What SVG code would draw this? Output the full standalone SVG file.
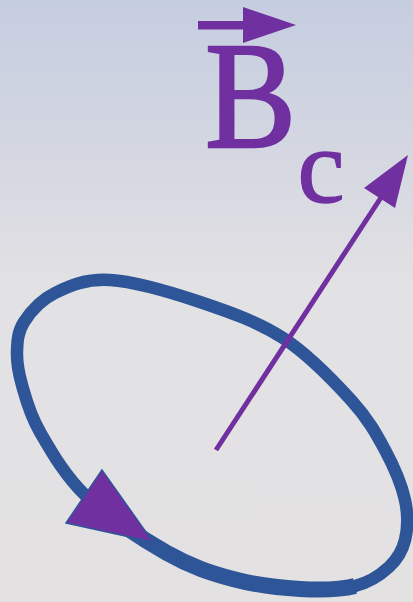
<svg xmlns="http://www.w3.org/2000/svg" width="413" height="602" viewBox="0 0 413 602">
  <defs>
    <linearGradient id="bg" x1="0" y1="0" x2="0" y2="1">
      <stop offset="0" stop-color="#c5cde0"/>
      <stop offset="0.25" stop-color="#d4d7e1"/>
      <stop offset="0.47" stop-color="#e2e1e4"/>
      <stop offset="1" stop-color="#e3e1e2"/>
    </linearGradient>
    <style>
      .ring { fill: none; stroke: #2e5597; }
      .purple { fill: #7030a0; }
      .label { font-family: "Liberation Serif", "Times New Roman", serif; fill: #7030a0; stroke: #7030a0; }
    </style>
  </defs>
  <rect x="0" y="0" width="413" height="602" fill="url(#bg)"/>

  <g id="loop">
    <path class="ring" stroke-width="12.5" d="M 110 280 C 134.2 281.5, 171.2 292.3, 200 302 C 228.8 311.7, 257.8 321.7, 283 338 C 308.2 354.3, 334 381.3, 351 400 C 368 418.7, 376 433.3, 385 450 C 394 466.7, 401.7 485, 405 500 C 408.3 515, 407.7 528.8, 405 540 C 402.3 551.2, 397.3 559.3, 389 567 C 380.7 574.7, 369.8 582.3, 355 586 C 340.2 589.7, 320.3 590.2, 300 589 C 279.7 587.8, 255.2 585, 233 579 C 210.8 573, 191.5 566.8, 167 553 C 142.5 539.2, 107.2 516.2, 86 496 C 64.8 475.8, 50.7 450.5, 40 432 C 29.3 413.5, 25.8 398.3, 22 385 C 18.2 371.7, 16.7 362.5, 17 352 C 17.3 341.5, 17.7 331.8, 24 322 C 30.3 312.2, 40.7 300, 55 293 C 69.3 286, 85.8 278.5, 110 280 Z"/>
    <path class="ring" stroke-width="16" d="M 355 586 C 340.2 589.7, 320.3 590.2, 300 589 C 279.7 587.8, 255.2 585, 233 579 C 210.8 573, 191.5 566.8, 167 553 C 142.5 539.2, 107.2 516.2, 86 496"/>
    <polygon class="purple" stroke="#2e5597" stroke-width="1.5" points="102,470 66,523 153,542"/>
  </g>

  <g id="connectors">
    <line x1="216" y1="450" x2="382" y2="196" stroke="#7030a0" stroke-width="5"/>
    <polygon class="purple" points="408,155 364,188 395,208"/>
  </g>

  <g id="label-Bc">
    <rect class="purple" x="198" y="21" width="47" height="8.5"/>
    <polygon class="purple" points="243,7 296,25 243,43"/>
    <text class="label" transform="translate(205 147) scale(0.9 1)" x="0" y="0" font-size="152" stroke-width="2.5">B</text>
    <text class="label" x="297.5" y="202" font-size="106" stroke-width="1.5">c</text>
  </g>
</svg>
